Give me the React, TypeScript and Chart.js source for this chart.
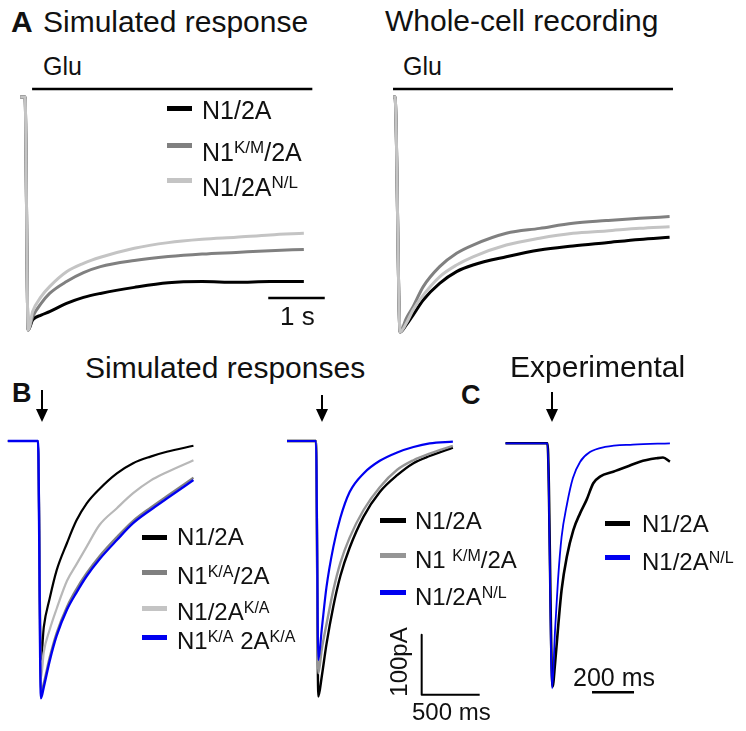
import React, { useEffect, useRef } from "react";
import { Chart, registerables } from "chart.js";

Chart.register(...registerables);

// ---------- Panel A, simulated response (time s, normalised current) ----------
const A_SIM_T = [-0.12, -0.035, 0.02, 0.1, 0.25, 0.4, 0.7, 1.0, 1.3, 1.9, 2.5, 3.1, 3.7, 4.3, 4.9];
const A_SIM_N1_2A = [0, 0, -1.0, -0.957, -0.936, -0.921, -0.886, -0.86, -0.843, -0.817, -0.797, -0.792, -0.795, -0.792, -0.792];
const A_SIM_N1KM_2A = [0, 0, -1.0, -0.943, -0.886, -0.843, -0.792, -0.754, -0.728, -0.702, -0.685, -0.674, -0.667, -0.66, -0.654];
const A_SIM_N1_2ANL = [0, 0, -1.0, -0.921, -0.857, -0.814, -0.75, -0.714, -0.688, -0.649, -0.625, -0.611, -0.602, -0.592, -0.585];

// ---------- Panel A, whole-cell recording ----------
const A_WC_T = [-0.03, 0, 0.09, 0.2, 0.32, 0.5, 0.79, 1.09, 1.38, 1.97, 2.56, 3.15, 3.74, 4.33, 4.86];
const A_WC_N1_2A = [0, 0, -1.0, -0.97, -0.928, -0.864, -0.793, -0.743, -0.715, -0.68, -0.651, -0.634, -0.62, -0.606, -0.597];
const A_WC_N1KM_2A = [0, 0, -1.0, -0.942, -0.892, -0.807, -0.722, -0.665, -0.63, -0.58, -0.559, -0.537, -0.526, -0.516, -0.509];
const A_WC_N1_2ANL = [0, 0, -1.0, -0.963, -0.906, -0.843, -0.765, -0.715, -0.68, -0.63, -0.601, -0.58, -0.57, -0.559, -0.552];

// Glu application bars and scale bar (s)
const GLU_SIM_T = [0.09, 5.05];
const GLU_WC_T = [-0.035, 4.92];
const A_SCALE_T = [4.27, 5.27]; // 1 s

// ---------- Panel B, simulated responses (time s, current pA) ----------
const B1_T = [-0.26, 0, 0.025, 0.05, 0.1, 0.16, 0.25, 0.33, 0.42, 0.53, 0.68, 0.82, 0.97, 1.11, 1.34];
const B1_N1_2A = [0, 0, -365, -310, -263, -216, -170, -133, -104, -80, -54, -37, -26, -18, -8];
const B1_N1KA_2A = [0, 0, -420, -403, -361, -320, -276, -247, -220, -192, -160, -133, -111, -92, -61];
const B1_N1_2AKA = [0, 0, -396, -352, -315, -280, -233, -206, -176, -140, -112, -87, -66, -52, -32];
const B1_N1KA_2AKA = [0, 0, -429, -410, -367, -325, -281, -253, -225, -197, -165, -137, -115, -96, -65];

const B2_T = [-0.25, 0, 0.02, 0.05, 0.09, 0.15, 0.21, 0.29, 0.41, 0.55, 0.7, 0.84, 0.98, 1.18];
const B2_N1_2A = [0, 0, -426, -392, -339, -275, -225, -178, -126, -85, -57, -37, -25, -11];
const B2_N1KM_2A = [0, 0, -387, -347, -306, -248, -203, -161, -115, -77, -48, -32, -21, -8];
const B2_N1_2ANL = [0, 0, -365, -313, -244, -176, -128, -85, -54, -33, -19, -10, -4, -1];

// scale bar: 500 ms x 100 pA
const B_SCALE_T = [0.911, 0.911, 1.411];
const B_SCALE_PA = [-323, -423, -423];

// ---------- Panel C, experimental (time s, normalised current) ----------
const C_BLACK_T = [-0.2, 0, 0.024, 0.036, 0.052, 0.067, 0.092, 0.123, 0.155, 0.186, 0.218, 0.25, 0.313, 0.377, 0.44, 0.52, 0.55, 0.583];
const C_N1_2A = [0, 0, -0.993, -0.898, -0.735, -0.599, -0.463, -0.354, -0.286, -0.231, -0.163, -0.136, -0.116, -0.096, -0.075, -0.061, -0.058, -0.075];
const C_BLUE_T = [-0.2, 0, 0.022, 0.036, 0.05, 0.067, 0.092, 0.121, 0.155, 0.202, 0.274, 0.407, 0.583];
const C_N1_2ANL = [0, 0, -1.0, -0.762, -0.558, -0.383, -0.252, -0.142, -0.076, -0.036, -0.015, -0.005, 0];
const C_SCALE_T = [0.212, 0.412]; // 200 ms

const FONT = "'Liberation Sans', Arial, Helvetica, sans-serif";
const BLACK = "#000000";
const DGRAY = "#808080";
const LGRAY = "#c4c4c4";
const BLUE = "#0000f0";

type Series = { t: number[]; v: number[]; color: string; width: number; smooth?: boolean };
type Box = { left: number; top: number; width: number; height: number; x0: number; kx: number; y0: number; ky: number };

function Traces({ box, series }: { box: Box; series: Series[] }) {
  const ref = useRef<HTMLCanvasElement | null>(null);
  useEffect(() => {
    const xmin = (box.left - box.x0) / box.kx;
    const xmax = (box.left + box.width - box.x0) / box.kx;
    const ymax = (box.y0 - box.top) / box.ky;
    const ymin = (box.y0 - box.top - box.height) / box.ky;
    // Chart.js paints the first dataset on top, so list topmost first
    const ordered = series.slice().reverse();
    const chart = new Chart(ref.current as HTMLCanvasElement, {
      type: "line",
      data: {
        datasets: ordered.map((s) => ({
          data: s.t.map((t, i) => ({ x: t, y: s.v[i] })),
          borderColor: s.color,
          backgroundColor: s.color,
          borderWidth: s.width,
          pointRadius: 0,
          fill: false,
          tension: 0,
          cubicInterpolationMode: s.smooth === false ? "default" : "monotone",
          borderJoinStyle: "round",
          borderCapStyle: "butt",
        })) as any,
      },
      options: {
        responsive: false,
        maintainAspectRatio: false,
        animation: false,
        events: [],
        layout: { padding: 0 },
        plugins: { legend: { display: false }, tooltip: { enabled: false }, title: { display: false } },
        scales: {
          x: { type: "linear", display: false, min: xmin, max: xmax },
          y: { type: "linear", display: false, min: ymin, max: ymax },
        },
      },
    });
    return () => chart.destroy();
  }, []);
  return (
    <canvas
      ref={ref}
      width={box.width}
      height={box.height}
      style={{ position: "absolute", left: box.left, top: box.top, width: box.width, height: box.height }}
    />
  );
}

function Txt({ x, base, size, bold, children }: { x: number; base: number; size: number; bold?: boolean; children: React.ReactNode }) {
  return (
    <div
      style={{
        position: "absolute",
        left: x,
        top: base - 0.85 * size,
        fontSize: size,
        lineHeight: `${size}px`,
        fontWeight: bold ? 700 : 400,
        whiteSpace: "nowrap",
        color: "#111",
      }}
    >
      {children}
    </div>
  );
}

function Sup({ size, children }: { size: number; children: React.ReactNode }) {
  return <span style={{ fontSize: Math.round(size * 0.66), verticalAlign: Math.round(size * 0.3) }}>{children}</span>;
}

type Row = { cy: number; color: string; label: React.ReactNode };
function Legend({ lx, lw, tx, size, rows, dy }: { lx: number; lw: number; tx: number; size: number; rows: Row[]; dy: number }) {
  return (
    <>
      {rows.map((r, i) => (
        <React.Fragment key={i}>
          <div style={{ position: "absolute", left: lx, top: r.cy - 2.5, width: lw, height: 5, background: r.color }} />
          <Txt x={tx} base={r.cy + dy + 0.358 * size} size={size}>
            {r.label}
          </Txt>
        </React.Fragment>
      ))}
    </>
  );
}

function Arrow({ x, top, bottom }: { x: number; top: number; bottom: number }) {
  const head = 13;
  return (
    <>
      <div style={{ position: "absolute", left: x - 1, top, width: 2, height: bottom - top - head + 1, background: "#000" }} />
      <div
        style={{
          position: "absolute",
          left: x - 6,
          top: bottom - head,
          width: 0,
          height: 0,
          borderLeft: "6px solid transparent",
          borderRight: "6px solid transparent",
          borderTop: `${head}px solid #000`,
        }}
      />
    </>
  );
}

export default function App() {
  const boxASim: Box = { left: 5, top: 80, width: 345, height: 265, x0: 27, kx: 56.5, y0: 97, ky: 233 };
  const boxAWc: Box = { left: 370, top: 80, width: 330, height: 265, x0: 395, kx: 56.5, y0: 97, ky: 235 };
  const boxB1: Box = { left: 0, top: 430, width: 230, height: 290, x0: 38, kx: 116, y0: 441, ky: 0.6 };
  const boxB2: Box = { left: 280, top: 430, width: 230, height: 290, x0: 316, kx: 116, y0: 441, ky: 0.6 };
  const boxC: Box = { left: 495, top: 430, width: 200, height: 280, x0: 547.5, kx: 210, y0: 443.3, ky: 245 };

  return (
    <div
      style={{
        position: "absolute",
        left: 0,
        top: 0,
        width: 746,
        height: 731,
        background: "#fff",
        overflow: "hidden",
        fontFamily: FONT,
      }}
    >
      <Traces
        box={boxASim}
        series={[
          { t: GLU_SIM_T, v: [0.034, 0.034], color: BLACK, width: 2.5, smooth: false },
          { t: A_SCALE_T, v: [-0.863, -0.863], color: BLACK, width: 2.5, smooth: false },
          { t: A_SIM_T, v: A_SIM_N1_2A, color: BLACK, width: 3 },
          { t: A_SIM_T, v: A_SIM_N1KM_2A, color: DGRAY, width: 3 },
          { t: A_SIM_T, v: A_SIM_N1_2ANL, color: LGRAY, width: 3 },
        ]}
      />
      <Traces
        box={boxAWc}
        series={[
          { t: GLU_WC_T, v: [0.034, 0.034], color: BLACK, width: 2.5, smooth: false },
          { t: A_WC_T, v: A_WC_N1_2A, color: BLACK, width: 3 },
          { t: A_WC_T, v: A_WC_N1KM_2A, color: DGRAY, width: 3 },
          { t: A_WC_T, v: A_WC_N1_2ANL, color: LGRAY, width: 3 },
        ]}
      />
      <Traces
        box={boxB1}
        series={[
          { t: B1_T, v: B1_N1_2A, color: BLACK, width: 2.2 },
          { t: B1_T, v: B1_N1_2AKA, color: "#b8b8b8", width: 2.2 },
          { t: B1_T, v: B1_N1KA_2A, color: DGRAY, width: 2.2 },
          { t: B1_T, v: B1_N1KA_2AKA, color: BLUE, width: 2.4 },
        ]}
      />
      <Traces
        box={boxB2}
        series={[
          { t: B_SCALE_T, v: B_SCALE_PA, color: BLACK, width: 2, smooth: false },
          { t: B2_T, v: B2_N1_2A, color: BLACK, width: 2.4 },
          { t: B2_T, v: B2_N1KM_2A, color: "#959595", width: 2.4 },
          { t: B2_T, v: B2_N1_2ANL, color: BLUE, width: 2.2 },
        ]}
      />
      <Traces
        box={boxC}
        series={[
          { t: C_SCALE_T, v: [-1.016, -1.016], color: BLACK, width: 2.5, smooth: false },
          { t: C_BLACK_T, v: C_N1_2A, color: BLACK, width: 2.6 },
          { t: C_BLUE_T, v: C_N1_2ANL, color: BLUE, width: 1.8 },
        ]}
      />

      {/* Panel A texts */}
      <Txt x={11} base={32} size={30} bold>A</Txt>
      <Txt x={43} base={32} size={30}>Simulated response</Txt>
      <Txt x={385} base={31} size={30}>Whole-cell recording</Txt>
      <Txt x={43} base={75} size={25}>Glu</Txt>
      <Txt x={403} base={75} size={25}>Glu</Txt>
      <Txt x={280} base={325} size={26}>1 s</Txt>
      <Legend
        lx={167}
        lw={25}
        tx={202}
        size={25}
        dy={2}
        rows={[
          { cy: 108, color: BLACK, label: "N1/2A" },
          { cy: 145, color: DGRAY, label: <>N1<Sup size={25}>K/M</Sup>/2A</> },
          { cy: 180, color: LGRAY, label: <>N1/2A<Sup size={25}>N/L</Sup></> },
        ]}
      />

      {/* Panel B texts */}
      <Txt x={12} base={403} size={27} bold>B</Txt>
      <Txt x={85} base={378} size={30}>Simulated responses</Txt>
      <Arrow x={42} top={390} bottom={422} />
      <Arrow x={322} top={395} bottom={422} />
      <Legend
        lx={142}
        lw={25}
        tx={177}
        size={24}
        dy={0}
        rows={[
          { cy: 537, color: BLACK, label: "N1/2A" },
          { cy: 572, color: DGRAY, label: <>N1<Sup size={24}>K/A</Sup>/2A</> },
          { cy: 608, color: LGRAY, label: <>N1/2A<Sup size={24}>K/A</Sup></> },
          { cy: 637, color: BLUE, label: <>N1<Sup size={24}>K/A</Sup> 2A<Sup size={24}>K/A</Sup></> },
        ]}
      />
      <Legend
        lx={380}
        lw={26}
        tx={415}
        size={24}
        dy={1}
        rows={[
          { cy: 520, color: BLACK, label: "N1/2A" },
          { cy: 555, color: "#959595", label: <>N1 <Sup size={24}>K/M</Sup>/2A</> },
          { cy: 592, color: BLUE, label: <>N1/2A<Sup size={24}>N/L</Sup></> },
        ]}
      />
      <div
        style={{
          position: "absolute",
          left: 359,
          top: 650,
          width: 80,
          height: 24,
          lineHeight: "24px",
          fontSize: 24,
          textAlign: "center",
          transform: "rotate(-90deg)",
          transformOrigin: "50% 50%",
          whiteSpace: "nowrap",
          color: "#111",
        }}
      >
        100pA
      </div>
      <Txt x={412} base={720} size={24}>500 ms</Txt>

      {/* Panel C texts */}
      <Txt x={461} base={405} size={27} bold>C</Txt>
      <Txt x={510} base={377} size={30}>Experimental</Txt>
      <Arrow x={552} top={392} bottom={422} />
      <Legend
        lx={605}
        lw={25}
        tx={642}
        size={24}
        dy={1}
        rows={[
          { cy: 523, color: BLACK, label: "N1/2A" },
          { cy: 557, color: BLUE, label: <>N1/2A<Sup size={24}>N/L</Sup></> },
        ]}
      />
      <Txt x={573} base={686} size={25}>200 ms</Txt>
    </div>
  );
}
